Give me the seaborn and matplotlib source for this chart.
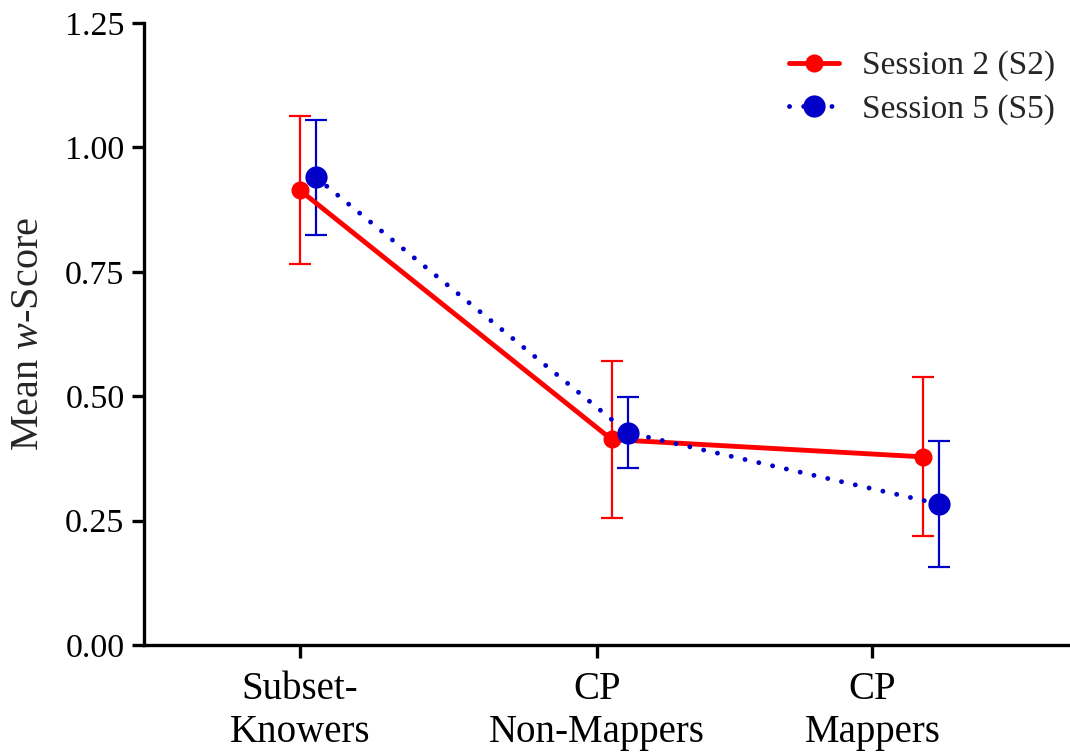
import numpy as np
import pandas as pd
import matplotlib
matplotlib.use("Agg")
import matplotlib.pyplot as plt
import seaborn as sns

# ---- data ----
categories = ["Subset-\nKnowers", "CP\nNon-Mappers", "CP\nMappers"]
s2_mean = [0.914, 0.413, 0.378]
s2_err = [0.149, 0.158, 0.160]
s5_mean = [0.940, 0.427, 0.283]
s5_err = [0.116, 0.072, 0.127]
series_labels = ["Session 2 (S2)", "Session 5 (S5)"]
y_ticks = [0.00, 0.25, 0.50, 0.75, 1.00, 1.25]

sns.set_style("ticks")
plt.rcParams["font.family"] = ["Liberation Serif", "DejaVu Serif"]
plt.rcParams["mathtext.fontset"] = "custom"
plt.rcParams["mathtext.rm"] = "Liberation Serif"
plt.rcParams["mathtext.it"] = "Liberation Serif:italic"

fig = plt.figure(figsize=(10.7, 7.54), dpi=100)
ax = fig.add_axes([0.1346, 0.1446, 0.8654, 0.8249])

pos = np.arange(len(categories))
red = "#FF0000"
blue = "#0000C8"
offsets = [0.0, 0.051]

df2 = pd.DataFrame({"x": pos + offsets[0], "y": s2_mean})
df5 = pd.DataFrame({"x": pos + offsets[1], "y": s5_mean})

ax.errorbar(df2["x"], df2["y"], yerr=s2_err, fmt="none", ecolor=red,
            elinewidth=1.6, capsize=8, capthick=1.6, zorder=2)
ax.errorbar(df5["x"], df5["y"], yerr=s5_err, fmt="none", ecolor=blue,
            elinewidth=1.6, capsize=8, capthick=1.6, zorder=2)

sns.lineplot(data=df2, x="x", y="y", ax=ax, color=red, linewidth=3.5,
             marker="o", markersize=13, markeredgewidth=0,
             label=series_labels[0], zorder=3)
sns.lineplot(data=df5, x="x", y="y", ax=ax, color=blue, linewidth=3.5,
             linestyle=(0, (0.01, 2.9)), dash_capstyle="round",
             marker="o", markersize=16, markeredgewidth=0,
             label=series_labels[1], zorder=4)

ax.set_xlim(-0.5, 2.47)
ax.set_ylim(0, 1.25)
ax.set_yticks(y_ticks)
ax.set_yticklabels([f"{t:.2f}" for t in y_ticks])
# tick positions as drawn in the reference figure
ax.set_xticks([0, 0.953, 1.836])
ax.set_xticklabels(categories)
ax.set_xlabel("")
ax.set_ylabel("Mean $\\it{w}$-Score", fontsize=29, labelpad=13)

for side in ["top", "right"]:
    ax.spines[side].set_visible(False)
for side in ["left", "bottom"]:
    ax.spines[side].set_linewidth(2.4)
    ax.spines[side].set_color("black")
ax.tick_params(axis="both", which="major", length=9, width=2.4, color="black",
               labelcolor="black")
ax.tick_params(axis="y", labelsize=24.5, pad=5)
ax.tick_params(axis="x", labelsize=28, pad=10)

leg = ax.legend(loc="upper right", bbox_to_anchor=(1.004, 0.985), frameon=False,
                fontsize=24, handlelength=1.5, handletextpad=0.7,
                labelspacing=0.38, borderaxespad=0.15)

fig.savefig("out.png", dpi=100)
